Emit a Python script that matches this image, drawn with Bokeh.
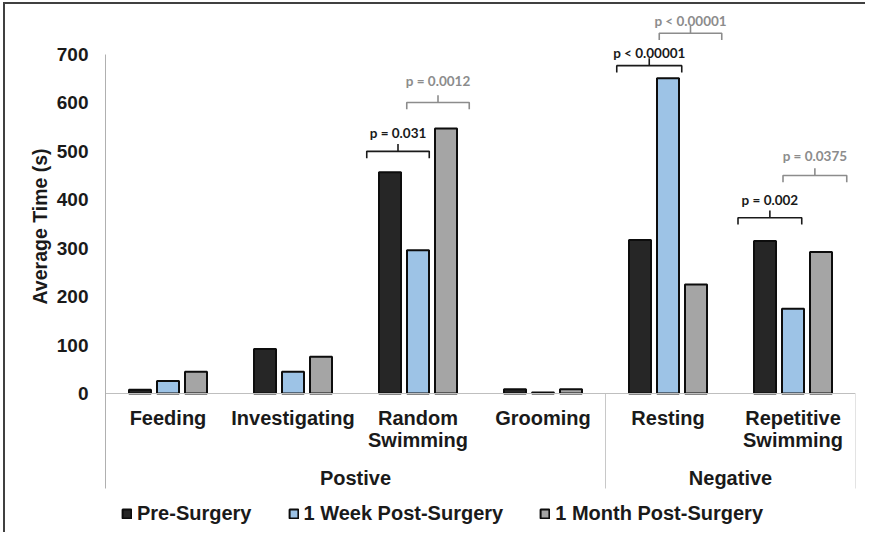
from bokeh.plotting import figure
from bokeh.models import (ColumnDataSource, FactorRange, Range1d, FixedTicker,
                          Legend, LegendItem, Title, InlineStyleSheet)
from bokeh.transform import dodge
from bokeh.core.properties import value
from bokeh.embed import file_html
from bokeh.resources import INLINE

# ---------------- data ----------------
groups = ["Postive", "Postive", "Postive", "Postive", "Negative", "Negative"]
categories = ["Feeding", "Investigating", "Random\nSwimming", "Grooming",
              "Resting", "Repetitive\nSwimming"]
pre_surgery = [8, 92, 457, 9, 317, 315]
week_post = [26, 45, 296, 2, 651, 175]
month_post = [45, 76, 547, 9, 225, 292]
series_names = ["Pre-Surgery", "1 Week Post-Surgery", "1 Month Post-Surgery"]
y_ticks = [0, 100, 200, 300, 400, 500, 600, 700]

# significance brackets
br_cat = [2, 2, 4, 4, 5, 5]
br_label = ["p = 0.031", "p = 0.0012", "p < 0.00001", "p < 0.00001",
            "p = 0.002", "p = 0.0375"]
br_y = [500, 601, 677, 744, 363, 450]
br_text_y = [537, 646, 703, 770, 400, 491]
br_left = [-0.41, -0.09, -0.41, -0.07, -0.44, -0.08]
br_right = [0.09, 0.41, 0.11, 0.43, 0.07, 0.43]
br_color = ["#1a1a1a", "#8c8c8c", "#1a1a1a", "#8c8c8c", "#1a1a1a", "#8c8c8c"]

# ---------------- figure ----------------
factors = list(zip(groups, categories))
src = ColumnDataSource(dict(x=factors, pre=pre_surgery, week=week_post,
                            month=month_post))

px_per_unit = 339 / 700.0
y_top = (393 - 4) / px_per_unit
y_bottom = -(534 - 393) / px_per_unit
sep_depth = -95 / px_per_unit

p = figure(x_range=FactorRange(*factors, factor_padding=0, group_padding=0,
                               range_padding=0),
           y_range=Range1d(y_bottom, y_top),
           width=862, height=530, output_backend="svg", toolbar_location=None,
           min_border_left=100, min_border_right=12, min_border_top=0,
           min_border_bottom=0)
p.stylesheets = [InlineStyleSheet(css=":host { margin-left: 3px; margin-top: 2px; "
                                      "border-left: 2px solid #404040; "
                                      "border-top: 2px solid #404040; }")]
p.outline_line_color = None
p.xgrid.grid_line_color = None
p.ygrid.grid_line_color = None

colors = ["#262626", "#9dc3e6", "#a5a5a5"]
offsets = [-0.224, 0.0, 0.224]
renderers = []
for col, off, c in zip(["pre", "week", "month"], offsets, colors):
    r = p.vbar(x=dodge("x", off, range=p.x_range), top=col, width=0.176,
               source=src, fill_color=c, line_color="#0d0d0d", line_width=2)
    renderers.append(r)

# group separator lines below the category axis
p.segment(x0=[4, 6], y0=[0, 0], x1=[4, 6], y1=[sep_depth, sep_depth],
          line_color="#c8c8c8", line_width=1)

# brackets
xs, ys, ts_x = [], [], []
hook = 14
tick = 15
for ci, l, rr, y in zip(br_cat, br_left, br_right, br_y):
    c = ci + 0.5
    m = c + (l + rr) / 2
    xs.append([c + l, c + l, m, m, m, c + rr, c + rr])
    ys.append([y - hook, y, y, y + tick, y, y, y - hook])
    ts_x.append(m)
p.multi_line(xs=xs, ys=ys, line_color=br_color, line_width=1.6)
p.text(x=ts_x, y=br_text_y, text=br_label, text_color=br_color,
       text_align="center", text_baseline="middle",
       text_font=value("Lato"), text_font_style="bold",
       text_font_size="13.5px")

# axes
p.yaxis.ticker = FixedTicker(ticks=y_ticks)
p.yaxis.bounds = (sep_depth, 700)
p.yaxis.major_label_text_font = "Liberation Sans"
p.yaxis.major_label_text_font_style = "bold"
p.yaxis.major_label_text_font_size = "19px"
p.yaxis.major_label_text_color = "#1a1a1a"
p.yaxis.major_label_standoff = 17
p.yaxis.major_tick_line_color = None
p.yaxis.major_tick_out = 0
p.yaxis.major_tick_in = 0
p.yaxis.minor_tick_line_color = None
p.yaxis.minor_tick_out = 0
p.yaxis.axis_line_color = "#b0b0b0"

p.add_layout(Title(text="Average Time (s)", align="left", offset=230,
                   text_font="Liberation Sans", text_font_style="bold",
                   text_font_size="19.5px", text_color="#1a1a1a", standoff=6),
             "left")

p.xaxis.fixed_location = 0
p.xaxis.major_label_text_font = "Liberation Sans"
p.xaxis.major_label_text_font_style = "bold"
p.xaxis.major_label_text_font_size = "20px"
p.xaxis.major_label_text_color = "#1a1a1a"
p.xaxis.major_label_text_line_height = 1.0
p.xaxis.major_label_orientation = "horizontal"
p.xaxis.major_label_standoff = 13
p.xaxis.group_text_font = "Liberation Sans"
p.xaxis.group_text_font_style = "bold"
p.xaxis.group_text_font_size = "20px"
p.xaxis.group_text_color = "#1a1a1a"
p.xaxis.group_label_orientation = "horizontal"
p.xaxis.major_tick_line_color = None
p.xaxis.major_tick_out = 0
p.xaxis.minor_tick_line_color = None
p.xaxis.axis_line_color = "#bfbfbf"
p.xaxis.separator_line_color = None

legend = Legend(items=[LegendItem(label=n, renderers=[r])
                       for n, r in zip(series_names, renderers)],
                location=(16, 9), orientation="horizontal",
                glyph_width=11, glyph_height=11, label_standoff=5,
                spacing=36, padding=0, margin=0, label_height=20,
                border_line_color=None, background_fill_alpha=0,
                label_text_font="Liberation Sans",
                label_text_font_style="bold",
                label_text_font_size="20px", label_text_color="#1a1a1a")
p.add_layout(legend, "center")

open("out.html", "w").write(file_html(p, INLINE))
